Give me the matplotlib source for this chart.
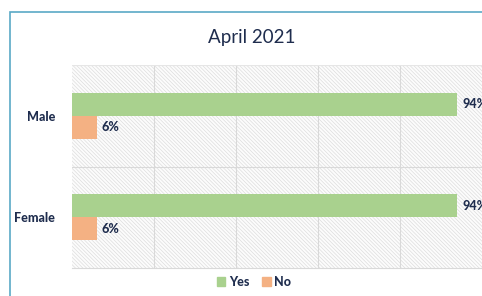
import numpy as np
import matplotlib.pyplot as plt
from matplotlib.patches import Rectangle, Patch

# donnees
categories = ["Female", "Male"]
yes_vals = [0.94, 0.94]
no_vals = [0.06, 0.06]
yes_labels = ["94%", "94%"]
no_labels = ["6%", "6%"]

vert = "#A9D18E"
orange = "#F4B183"
navy = "#1F2D4E"

plt.rcParams['font.family'] = ['Lato', 'DejaVu Sans']
plt.rcParams['hatch.linewidth'] = 0.5

fig = plt.figure(figsize=(4.82, 2.96), dpi=100)

# cadre du graphique (coupe a droite et en bas)
fig.patches.append(Rectangle((10/482, -0.1), 1.2, (296-12)/296 + 0.1,
                             transform=fig.transFigure, facecolor="white",
                             edgecolor="#5AA9C6", linewidth=1.2, zorder=-1))

ax = fig.add_axes([72/482, 28/296, 1 - 72/482, (268-65)/296])

# fond hachure
fond = Rectangle((0, 0), 1, 1, transform=ax.transAxes, facecolor="#FCFCFC",
                 edgecolor="#DDDDDD", hatch="\\" * 9, linewidth=0, zorder=0)
ax.add_patch(fond)
ax.patch.set_visible(False)

y = np.arange(len(categories))
h = 0.225
ax.barh(y + h/2, yes_vals, height=h, color=vert, label="Yes", zorder=3)
ax.barh(y - h/2, no_vals, height=h, color=orange, label="No", zorder=3)

for i in range(len(categories)):
    ax.text(yes_vals[i] + 0.012, y[i] + h/2, yes_labels[i], va="center", ha="left",
            fontsize=9, fontweight="black", color=navy, clip_on=False)
    ax.text(no_vals[i] + 0.012, y[i] - h/2, no_labels[i], va="center", ha="left",
            fontsize=9, fontweight="black", color=navy)

ax.set_xlim(0, 1)
ax.set_ylim(-0.5, 1.5)
ax.set_xticks(np.arange(0, 1.01, 0.2))
ax.set_xticklabels([])
ax.set_yticks(y)
ax.set_yticklabels(categories, fontsize=9, fontweight="black", color=navy)
ax.tick_params(length=0, pad=12)

# grilles
for xv in np.arange(0.2, 1.0, 0.2):
    ax.axvline(xv, color="#D9D9D9", linewidth=0.8, zorder=1)
ax.axhline(0.5, color="#D9D9D9", linewidth=0.8, zorder=1)
ax.axhline(1.5, color="#E6E6E6", linewidth=0.8, zorder=1)

for s in ["top", "right", "left"]:
    ax.spines[s].set_visible(False)
ax.spines["bottom"].set_color("#D9D9D9")

fig.text(252/482, 1 - 37/296, "April 2021", ha="center", va="center",
         fontsize=13.5, color=navy)

poignees = [Patch(color=vert, label="Yes"), Patch(color=orange, label="No")]
fig.legend(handles=poignees, loc="center", bbox_to_anchor=(254/482, 1 - 282/296),
           ncol=2, frameon=False, handlelength=0.7, handleheight=0.7,
           handletextpad=0.3, columnspacing=1.0,
           prop={"size": 9, "weight": "black"}, labelcolor=navy)

fig.savefig("out.png", dpi=100)
